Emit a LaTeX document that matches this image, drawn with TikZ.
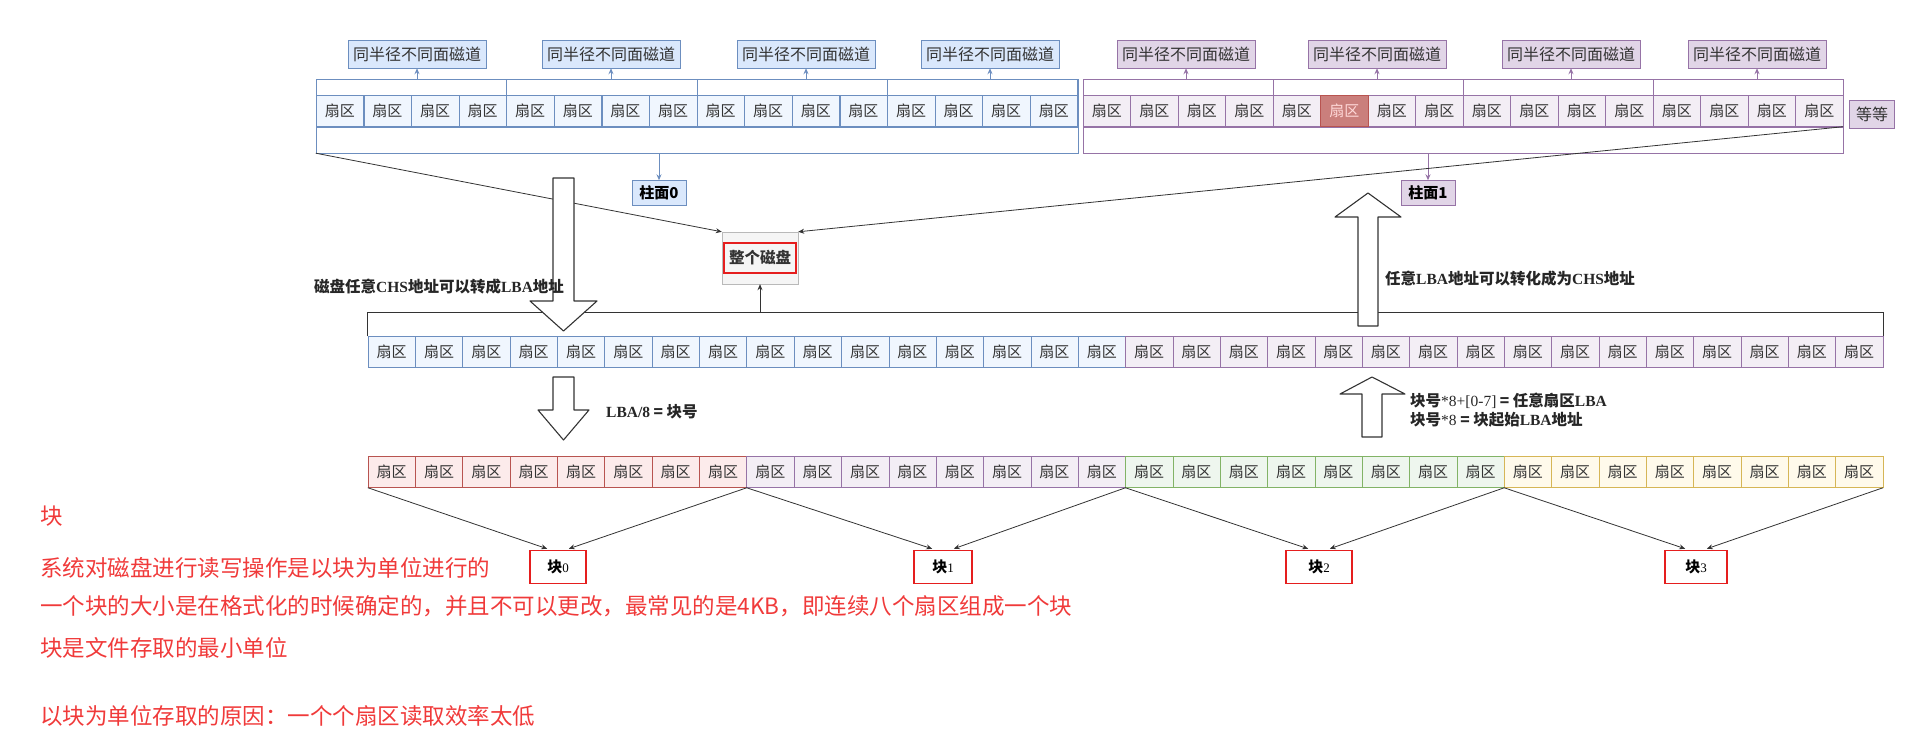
\documentclass[tikz,border=0pt]{standalone}
\usepackage{fontspec}
\setmainfont{Noto Sans CJK SC}
\newfontfamily\lat{Liberation Serif}
\usepackage{tikz}
\usetikzlibrary{positioning,arrows.meta,calc}

\definecolor{bluedraw}{HTML}{6C8EBF}
\definecolor{bluefill}{HTML}{DAE8FC}
\definecolor{purpdraw}{HTML}{9673A6}
\definecolor{purpfill}{HTML}{E1D5E7}
\definecolor{reddraw}{HTML}{B85450}
\definecolor{redfill}{HTML}{F8CECC}
\definecolor{greendraw}{HTML}{82B366}
\definecolor{greenfill}{HTML}{D5E8D4}
\definecolor{yeldraw}{HTML}{D6B656}
\definecolor{yelfill}{HTML}{FFF2CC}
\definecolor{notered}{HTML}{F03A3A}
\definecolor{blkred}{HTML}{E51E1E}
\definecolor{txtgray}{HTML}{333333}

\begin{document}
\begin{tikzpicture}[x=1pt, y=-1pt,
  sector/.style={draw=#1draw, fill=#1fill!40!white, minimum width=47.4pt, minimum height=31pt, inner sep=0pt, font=\fontsize{15}{15}\selectfont, text=txtgray},
  grp/.style={draw=#1draw, minimum width=190.4pt, minimum height=48pt, inner sep=0pt},
  tracklbl/.style={draw=#1draw, fill=#1fill, minimum width=138pt, minimum height=28pt, inner sep=0pt, font=\fontsize{16}{16}\selectfont, text=txtgray},
  zhu/.style={draw=#1draw, fill=#1fill, minimum width=54pt, minimum height=25pt, inner sep=0pt, font=\fontsize{15}{15}\selectfont\bfseries},
  blk/.style={draw=blkred, line width=1.6pt, fill=white, minimum height=33pt, inner sep=0pt, font=\fontsize{15}{15}\selectfont\bfseries},
  note/.style={anchor=west, inner sep=0pt, text=notered, font=\fontsize{22.5}{24}\selectfont},
  lbl/.style={anchor=west, inner sep=0pt, text=black!85, font=\fontsize{15.5}{19}\selectfont\bfseries},
  arr/.style={-{Stealth[length=6pt,width=5pt]}, draw=txtgray, line width=0.8pt},
  arrc/.style={-{Stealth[length=6pt,width=5pt]}, draw=#1draw, line width=1pt},
  hollow/.style={draw=txtgray, fill=white, line width=1.1pt, line join=round}]
\useasboundingbox (0,0) rectangle (1917,750);

% top row: two cylinders
\foreach \k in {1,...,4}
  \node[grp=blue] (g\k) at ({316+(\k-0.5)*190.4},103) {};
\foreach \k in {5,...,8}
  \node[grp=purp, minimum width=190pt] (g\k) at ({1083+(\k-4.5)*190},103) {};
\foreach \i in {1,...,16}
  \node[sector=blue] (t\i) at ({316+(\i-0.5)*47.6},111) {扇区};
\foreach \i in {17,...,32}
  \node[sector=purp] (t\i) at ({1083+(\i-16.5)*47.5},111) {扇区};
\node[sector=red, fill=reddraw!75!white, text=white!85!red] at (t22) {扇区};
\node[draw=bluedraw, minimum width=762pt, minimum height=74pt, inner sep=0pt] (cylb) at (697,116) {};
\node[draw=purpdraw, minimum width=760pt, minimum height=74pt, inner sep=0pt] (cylp) at (1463,116) {};
\node[tracklbl=purp, minimum width=45pt] (etc) at (1872,114) {等等};

\foreach \k/\x in {1/417,2/611,3/806,4/990} {
  \node[tracklbl=blue] (lb\k) at (\x,54) {同半径不同面磁道};
  \draw[arrc=blue] (lb\k |- g\k.north) -- (lb\k.south);
}
\foreach \k/\x in {5/1186,6/1377,7/1571,8/1757} {
  \node[tracklbl=purp] (lb\k) at (\x,54) {同半径不同面磁道};
  \draw[arrc=purp] (lb\k |- g\k.north) -- (lb\k.south);
}

\node[zhu=blue] (zhu0) at (659,193) {柱面0};
\node[zhu=purp] (zhu1) at (1428,193) {柱面1};
\draw[arrc=blue] (zhu0 |- cylb.south) -- (zhu0.north);
\draw[arrc=purp] (zhu1 |- cylp.south) -- (zhu1.north);

% whole disk
\node[draw=gray!55, fill=gray!8, minimum width=76pt, minimum height=52pt] (disk) at (760,258) {};
\node[draw=blkred, line width=1.4pt, minimum width=72pt, minimum height=30pt, inner sep=0pt, font=\fontsize{15.5}{15.5}\selectfont\bfseries, text=txtgray] (disklbl) at (disk) {整个磁盘};
\draw[arr] (cylb.south west) -- (disk.north west);
\draw[arr] (t32.south east) -- (disk.north east);

% LBA strip
\foreach \i in {1,...,16}
  \node[sector=blue] (m\i) at ({368+(\i-0.5)*47.34},352) {扇区};
\foreach \i in {17,...,32}
  \node[sector=purp] (m\i) at ({368+(\i-0.5)*47.34},352) {扇区};
\draw[draw=txtgray, line width=0.8pt] (m1.north west) -- ++(0,-24) coordinate (brk) -| (m32.north east);
\draw[arr] (disk |- brk) -- (disk.south);

\draw[hollow] (553,178) -- (574,178) -- (574,301) -- (597,301) -- (563.5,331) -- (530,301) -- (553,301) -- cycle;
\draw[hollow] (1358,326) -- (1378,326) -- (1378,217) -- (1401,217) -- (1368,193) -- (1335,217) -- (1358,217) -- cycle;
\node[lbl] (chs2lba) at (314,287) {磁盘任意{\lat CHS}地址可以转成{\lat LBA}地址};
\node[lbl] (lba2chs) at (1385,279) {任意{\lat LBA}地址可以转化成为{\lat CHS}地址};

% blocks
\draw[hollow] (553,377) -- (574,377) -- (574,410) -- (589,410) -- (563.5,440) -- (538,410) -- (553,410) -- cycle;
\draw[hollow] (1362,437) -- (1382,437) -- (1382,394) -- (1405,394) -- (1372,377) -- (1340,394) -- (1362,394) -- cycle;
\node[lbl] (div8) at (606,412) {{\lat LBA/8} = 块号};
\node[lbl, align=left] (mul8) at (1410,410) {块号{\lat\mdseries *8+[0-7]} = 任意扇区{\lat LBA}\\块号{\lat\mdseries *8} = 块起始{\lat LBA}地址};

\foreach \c [count=\k] in {red,purp,green,yel}
  \foreach \j in {1,...,8} {
    \pgfmathtruncatemacro\i{(\k-1)*8+\j}
    \node[sector=\c] (b\i) at ({368+(\i-0.5)*47.34},472) {扇区};
  }
\foreach \k/\x/\w in {0/558/56,1/943/58,2/1319/66,3/1696/62}
  \node[blk, minimum width=\w pt] (blk\k) at (\x,567) {块{\lat\mdseries\fontsize{13}{13}\selectfont\k}};
\foreach \k in {0,...,3} {
  \pgfmathtruncatemacro\l{\k*8+1}
  \pgfmathtruncatemacro\r{\k*8+8}
  \draw[arr, shorten >=3pt] (b\l.south west) -- ($(blk\k.north)+(-8,0)$);
  \draw[arr, shorten >=3pt] (b\r.south east) -- ($(blk\k.north)+(8,0)$);
}

% notes
\node[note] (n0) at (40,516) {块};
\node[note] (n1) at (40,568) {系统对磁盘进行读写操作是以块为单位进行的};
\node[note] (n2) at (40,606) {一个块的大小是在格式化的时候确定的，并且不可以更改，最常见的是4KB，即连续八个扇区组成一个块};
\node[note] (n3) at (40,648) {块是文件存取的最小单位};
\node[note] (n4) at (40,716) {以块为单位存取的原因：一个个扇区读取效率太低};
\end{tikzpicture}
\end{document}
